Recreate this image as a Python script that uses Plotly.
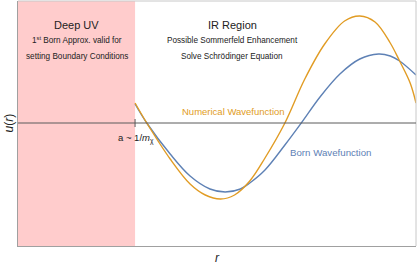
import plotly.graph_objects as go

# r values (a = 1) and wavefunction u(r)
r_numerical = [1.00, 1.10, 1.30, 1.47, 1.60, 1.73, 1.85, 1.98, 2.11, 2.28, 2.45,
               2.62, 2.79, 2.92, 3.05, 3.18, 3.26, 3.35, 3.40]
u_numerical = [0.20, 0.00, -0.36, -0.61, -0.72, -0.76, -0.72, -0.58, -0.35, 0.00, 0.44,
               0.79, 1.02, 1.07, 1.01, 0.80, 0.62, 0.40, 0.20]

r_born = [1.00, 1.10, 1.30, 1.47, 1.64, 1.77, 1.90, 1.98, 2.11, 2.28, 2.42,
          2.58, 2.75, 2.92, 3.08, 3.18, 3.26, 3.40]
u_born = [0.19, 0.00, -0.31, -0.53, -0.66, -0.69, -0.66, -0.60, -0.47, -0.22, 0.00,
          0.26, 0.49, 0.64, 0.69, 0.67, 0.62, 0.48]

a_cut = 1.0
x_max = 3.40

BLUE = "#5E81B5"
ORANGE = "#E19C24"
FONT = "Liberation Sans, Arial, sans-serif"

fig = go.Figure()
fig.add_trace(go.Scatter(x=r_born, y=u_born, mode="lines",
                         line=dict(color=BLUE, width=1.4, shape="spline"),
                         hoverinfo="skip", showlegend=False))
fig.add_trace(go.Scatter(x=r_numerical, y=u_numerical, mode="lines",
                         line=dict(color=ORANGE, width=1.4, shape="spline"),
                         hoverinfo="skip", showlegend=False))

# Deep UV region
fig.add_shape(type="rect", xref="x", yref="paper", x0=0, x1=a_cut, y0=0, y1=1,
              fillcolor="#FFCCCC", line=dict(width=0), layer="below")
# frame top/right
fig.add_shape(type="line", xref="paper", yref="paper", x0=0, x1=1, y0=1, y1=1,
              line=dict(color="#C8C8C8", width=1))
fig.add_shape(type="line", xref="paper", yref="paper", x0=1, x1=1, y0=0, y1=1,
              line=dict(color="#C8C8C8", width=1))
# zero line
fig.add_shape(type="line", xref="paper", yref="y", x0=0, x1=1, y0=0, y1=0,
              line=dict(color="#5A5A5A", width=1))
# tick at a
fig.add_shape(type="line", xref="x", yref="y", x0=a_cut, x1=a_cut, y0=0.04, y1=-0.04,
              line=dict(color="#5A5A5A", width=1))

def ann(text, x, y, size, color="#222222", xanchor="center", xref="x", yref="y", angle=0):
    fig.add_annotation(text=text, x=x, y=y, xref=xref, yref=yref, showarrow=False,
                       xanchor=xanchor, yanchor="middle", textangle=angle,
                       font=dict(family=FONT, size=size, color=color))

ann("Deep UV", 0.50, 0.98, 11)
ann("1<sup>st</sup> Born Approx. valid for", 0.50, 0.83, 8.2)
ann("setting Boundary Conditions", 0.50, 0.67, 8.2)
ann("IR Region", 1.83, 0.98, 11)
ann("Possible Sommerfeld Enhancement", 1.83, 0.83, 8.2)
ann("Solve Schrödinger Equation", 1.83, 0.67, 8.2)
ann("Numerical Wavefunction", 1.385, 0.12, 9.5, color=ORANGE, xanchor="left")
ann("Born Wavefunction", 2.31, -0.29, 9.7, color=BLUE, xanchor="left")
ann("a ~ 1/<i>m</i><sub>χ</sub>", 1.01, -0.15, 9.5)
ann("<i>u</i>(<i>r</i>)", -0.025, 0.5, 12, xref="paper", yref="paper", angle=-90)
ann("<i>r</i>", 0.5025, -0.049, 12, xref="paper", yref="paper")

fig.update_layout(
    width=417, height=265,
    margin=dict(l=18, r=1, t=1, b=19),
    paper_bgcolor="white", plot_bgcolor="white",
    xaxis=dict(range=[0, x_max], showgrid=False, zeroline=False, showticklabels=False,
               ticks="", showline=True, linecolor="#A0A0A0", linewidth=1),
    yaxis=dict(range=[-1.23, 1.22], showgrid=False, zeroline=False, showticklabels=False,
               ticks="", showline=True, linecolor="#A0A0A0", linewidth=1),
)

fig.write_html("out.html", config={"displayModeBar": False},
               post_script="document.body.style.margin='0';")
